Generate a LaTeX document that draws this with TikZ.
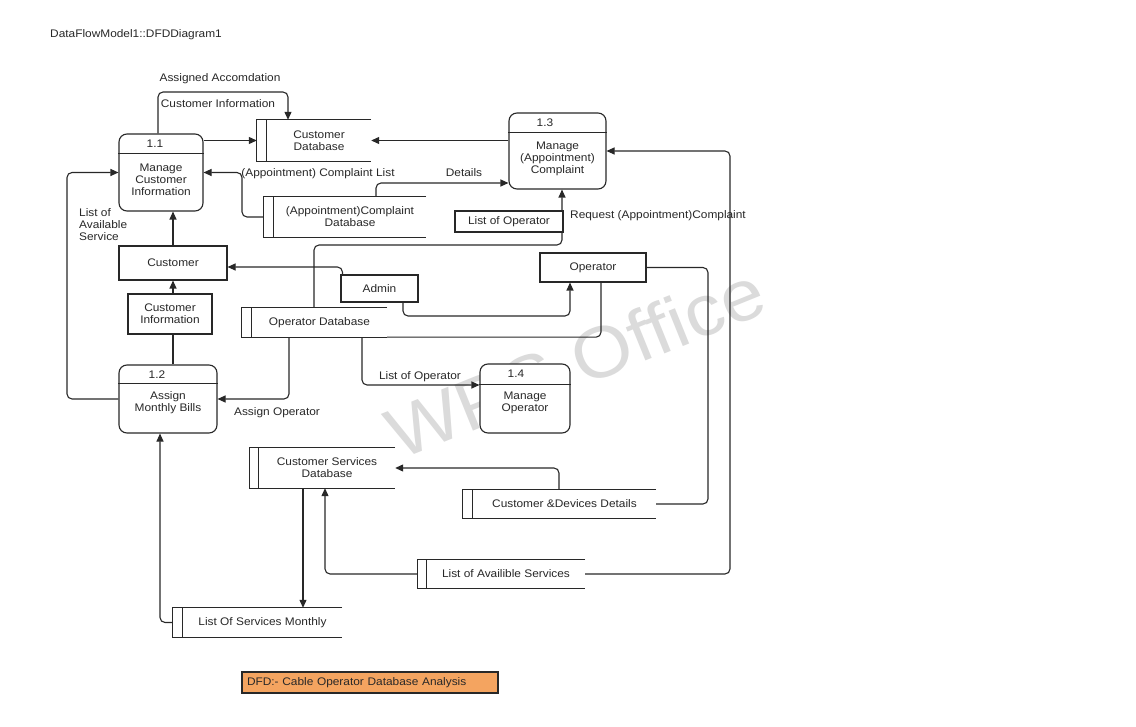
\documentclass[tikz,border=0pt]{standalone}
\usepackage{fontspec}
\setmainfont{Liberation Sans}[FakeStretch=1.08]
\usetikzlibrary{arrows.meta}
\definecolor{ink}{RGB}{40,40,40}
\definecolor{dfdorange}{RGB}{244,164,96}
\tikzset{
  base/.style={font=\fontsize{11}{12}\selectfont, text=ink, inner sep=0pt, align=center},
  proc/.style={base, draw=ink, line width=1.1pt, rounded corners=8pt, fill=white},
  ent/.style={base, draw=ink, line width=1.1pt, fill=white},
  storearea/.style={base},
  lbl/.style={base},
  pnum/.style={base, anchor=west},
  flow/.style={draw=ink, line width=1.1pt, rounded corners=5pt, -{Triangle[length=8pt,width=7pt]}},
  plain/.style={draw=ink, line width=1.1pt, rounded corners=5pt},
  storeline/.style={draw=ink, line width=1.1pt},
}
\begin{document}
\begin{tikzpicture}[x=1pt,y=-1pt]
\useasboundingbox[fill=white] (0,0) rectangle (1136,727);

% watermark
\node[font=\fontsize{72}{72}\selectfont, text=black!14, rotate=22] (wm) at (575,362) {WPS Office};

% title
\node[lbl, anchor=west] (title) at (50,35) {DataFlowModel1::DFDDiagram1};

% processes
\node[proc, minimum width=84pt, minimum height=77pt] (p11) at (161,172.5) {};
\node[proc, minimum width=97pt, minimum height=76pt] (p13) at (557.5,151) {};
\node[proc, minimum width=98pt, minimum height=68pt] (p12) at (168,399) {};
\node[proc, minimum width=90pt, minimum height=69pt] (p14) at (525,398.5) {};
\foreach \p/\d in {p11/20,p13/20,p12/19,p14/21}{
  \draw[storeline] ([yshift=-\d pt]\p.north west) -- ([yshift=-\d pt]\p.north east);
}
\node[pnum] (p11n) at ([xshift=28pt,yshift=-10pt]p11.north west) {1.1};
\node[pnum] (p13n) at ([xshift=28pt,yshift=-10pt]p13.north west) {1.3};
\node[pnum] (p12n) at ([xshift=30pt,yshift=-10pt]p12.north west) {1.2};
\node[pnum] (p14n) at ([xshift=28pt,yshift=-10pt]p14.north west) {1.4};
\node[lbl] (p11t) at (161,180) {Manage\\Customer\\Information};
\node[lbl] (p13t) at (557.5,159) {Manage\\(Appointment)\\Complaint};
\node[lbl] (p12t) at (168,403) {Assign\\Monthly Bills};
\node[lbl] (p14t) at (525,403) {Manage\\Operator};

% data stores (node = text area right of the inner line)
\node[storearea, minimum width=104pt, minimum height=41pt] (cdb) at (319,140.5) {Customer\\Database};
\node[storearea, minimum width=152pt, minimum height=40pt] (acdb) at (350,217) {(Appointment)Complaint\\Database};
\node[storearea, minimum width=135pt, minimum height=29pt] (odb) at (319.5,322.5) {Operator Database};
\node[storearea, minimum width=136pt, minimum height=40pt] (csdb) at (327,468) {Customer Services\\Database};
\node[storearea, minimum width=183pt, minimum height=28pt] (cdd) at (564.5,504) {Customer \&Devices Details};
\node[storearea, minimum width=158pt, minimum height=28pt] (las) at (506,574) {List of Availible Services};
\node[storearea, minimum width=159pt, minimum height=29pt] (losm) at (262.5,622.5) {List Of Services Monthly};
\foreach \s/\w in {cdb/10,acdb/10,odb/10,csdb/9,cdd/10,las/9,losm/10}{
  \draw[storeline] (\s.north east) -- ([xshift=-\w pt]\s.north west) -- ([xshift=-\w pt]\s.south west) -- (\s.south east);
  \draw[storeline] (\s.north west) -- (\s.south west);
}
\coordinate (cdbL) at ([xshift=-10pt]cdb.west);
\coordinate (acdbL) at ([xshift=-10pt]acdb.west);
\coordinate (lasL) at ([xshift=-9pt]las.west);
\coordinate (losmL) at ([xshift=-10pt]losm.west);

% external entities and label boxes
\node[ent, minimum width=108pt, minimum height=34pt] (customer) at (173,263) {Customer};
\node[ent, minimum width=84pt, minimum height=40pt] (custinfo) at (170,314) {Customer\\Information};
\node[ent, minimum width=77pt, minimum height=27pt] (admin) at (379.5,288.5) {Admin};
\node[ent, minimum width=106pt, minimum height=29pt] (operator) at (593,267.5) {Operator};

% connectors
\draw[flow] ([xshift=-3pt]p11.north) |- (288,92) -- ([xshift=-31pt]cdb.north);
\node[lbl] (l1) at (220,79) {Assigned Accomdation};
\node[lbl] (l2) at (218,104) {Customer Information};

\draw[flow] (p11.east |- cdbL) -- (cdbL);
\draw[flow] (p13.west |- cdb.east) -- (cdb.east);

\draw[flow] (acdbL) -| (242,195) |- (p11.east);
\node[lbl] (l3) at (318,174) {(Appointment) Complaint List};

\draw[flow] ([xshift=26pt]acdb.north) |- ([yshift=-32pt]p13.west);
\node[lbl] (l4) at (464,173) {Details};

\draw[flow] ([xshift=-5.5pt]odb.north) |- (562,245) -- ([xshift=4.5pt]p13.south);
\node[ent, minimum width=108pt, minimum height=21pt] (listop) at (509,221.5) {List of Operator};
\node[lbl] (l5) at (658,216) {Request (Appointment)Complaint};

\draw[flow] ([xshift=2pt]admin.north west) |- ([yshift=-4pt]customer.east);
\draw[flow] ([xshift=23.5pt]admin.south) |- (570,316) -- ([xshift=-23pt]operator.south);
\draw[plain] ([xshift=8pt]operator.south) |- (odb.south east);
\draw[plain] (operator.east) -| (708,400) |- (cdd.east);
\draw[flow] ([xshift=-5.5pt]cdd.north) |- (csdb.east);
\draw[flow] (las.east) -| (730,300) |- (p13.east);
\draw[flow] (lasL) -| ([xshift=-2pt]csdb.south);
\draw[flow] ([xshift=-24pt]csdb.south) -- ([xshift=-24pt]csdb.south |- losm.north);
\draw[flow] (losmL) -| ([xshift=-8pt]p12.south);
\draw[flow] (p12.west) -| (67,300) |- (p11.west);
\node[lbl, align=left, anchor=north west] (l6) at (79,208) {List of\\Available\\Service};
\draw[flow] ([xshift=-30.5pt]odb.south) |- (p12.east);
\node[lbl] (l7) at (277,413) {Assign Operator};
\draw[flow] ([xshift=42.5pt]odb.south) |- ([yshift=13.5pt]p14.west);
\node[lbl] (l8) at (420,377) {List of Operator};

\draw[plain] (p12.north -| customer.south) -- (custinfo.south -| customer.south);
\draw[flow] (custinfo.north -| customer.south) -- (customer.south);
\draw[flow] (customer.north) -- (p11.south -| customer.north);

% caption
\node[base, draw=ink, line width=1.1pt, fill=dfdorange, minimum width=256pt, minimum height=21pt, text width=246pt, align=left] (cap) at (370,682.5) {DFD:- Cable Operator Database Analysis};
\end{tikzpicture}
\end{document}
